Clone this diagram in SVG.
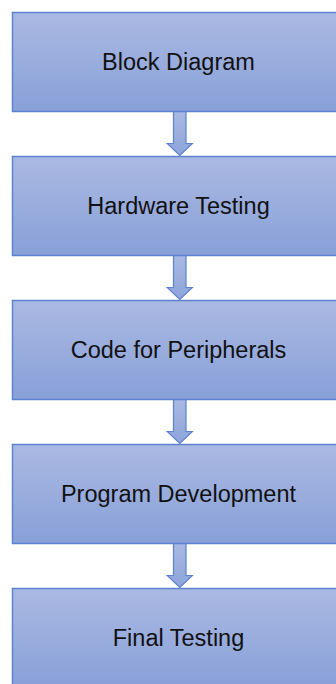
<svg xmlns="http://www.w3.org/2000/svg" width="336" height="684" viewBox="0 0 336 684">
  <defs>
    <linearGradient id="boxFill" x1="0" y1="0" x2="0" y2="1">
      <stop offset="0" stop-color="#AAB9E2"/>
      <stop offset="1" stop-color="#88A0D8"/>
    </linearGradient>
    <linearGradient id="arrowFill" x1="0" y1="0" x2="0" y2="1">
      <stop offset="0" stop-color="#A9B8E1"/>
      <stop offset="1" stop-color="#8EA5DA"/>
    </linearGradient>
    <style>
      .box { fill: url(#boxFill); stroke: #5B83CF; stroke-width: 1.5; }
      .arrow { fill: url(#arrowFill); stroke: #5B83CF; stroke-width: 1.2; stroke-linejoin: miter; }
      .label { font-family: "Liberation Sans", Arial, sans-serif; font-size: 23.5px; fill: #111; text-anchor: middle; }
    </style>
  </defs>

  <rect width="336" height="684" fill="#FFFFFF"/>

  <!-- block arrows between the steps -->
  <g id="connectors">
    <path class="arrow" d="M173.5,111.5 H186 V143.5 H192.3 L179.8,155.5 L167.3,143.5 H173.5 Z"/>
    <path class="arrow" d="M173.5,255.5 H186 V287.5 H192.3 L179.8,299.5 L167.3,287.5 H173.5 Z"/>
    <path class="arrow" d="M173.5,399.5 H186 V431.5 H192.3 L179.8,443.5 L167.3,431.5 H173.5 Z"/>
    <path class="arrow" d="M173.5,543.5 H186 V575.5 H192.3 L179.8,587.5 L167.3,575.5 H173.5 Z"/>
  </g>

  <g id="block-diagram">
    <rect class="box" x="12.5" y="12.5" width="332" height="99"/>
    <text class="label" x="178.5" y="70">Block Diagram</text>
  </g>

  <g id="hardware-testing">
    <rect class="box" x="12.5" y="156.5" width="332" height="99"/>
    <text class="label" x="178.5" y="214">Hardware Testing</text>
  </g>

  <g id="code-for-peripherals">
    <rect class="box" x="12.5" y="300.5" width="332" height="99"/>
    <text class="label" x="178.5" y="358">Code for Peripherals</text>
  </g>

  <g id="program-development">
    <rect class="box" x="12.5" y="444.5" width="332" height="99"/>
    <text class="label" x="178.5" y="502">Program Development</text>
  </g>

  <g id="final-testing">
    <rect class="box" x="12.5" y="588.5" width="332" height="99"/>
    <text class="label" x="178.5" y="646">Final Testing</text>
  </g>
</svg>
